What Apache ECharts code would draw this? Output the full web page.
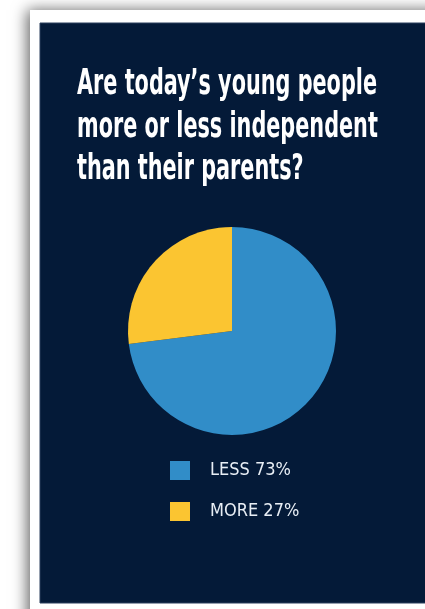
<!DOCTYPE html>
<html>
<head>
<meta charset="utf-8">
<script src="https://cdn.jsdelivr.net/npm/echarts@6/dist/echarts.min.js"></script>
<style>
  html, body { margin: 0; padding: 0; background: #ffffff; }
  #chart { width: 425px; height: 609px; }
</style>
</head>
<body>
<div id="chart"></div>
<script>
// data
const categories = ["LESS", "MORE"];
const values = [73, 27];
const colors = ["#318dc8", "#fbc531"];
const titleLines = [
  "Are today\u2019s young people",
  "more or less independent",
  "than their parents?"
];

const chart = echarts.init(document.getElementById("chart"));

const pieData = categories.map((name, i) => ({
  name: name,
  value: values[i],
  itemStyle: { color: colors[i] }
}));

// title lines, squeezed to look like the condensed headline face
const titleGraphics = titleLines.map((line, i) => ({
  type: "text",
  x: 77,
  y: 85 + i * 42.5,
  scaleX: 0.66,
  z: 10,
  style: {
    text: line,
    fill: "#ffffff",
    font: "bold 35px 'DejaVu Sans Condensed', 'DejaVu Sans', sans-serif",
    verticalAlign: "middle"
  }
}));

const option = {
  backgroundColor: "#ffffff",
  animation: false,
  graphic: [
    // white card with shadow
    {
      type: "rect",
      shape: { x: 30, y: 10, width: 420, height: 620 },
      style: { fill: "#ffffff", shadowBlur: 14, shadowColor: "rgba(0,0,0,0.6)", shadowOffsetX: -3 },
      z: 0
    },
    // navy panel
    {
      type: "rect",
      shape: { x: 40, y: 23, width: 400, height: 580 },
      style: { fill: "#041a38", stroke: "#2a3f5c", lineWidth: 1 },
      z: 1
    },
    ...titleGraphics
  ],
  legend: {
    orient: "vertical",
    left: 165,
    top: 456,
    itemWidth: 20,
    itemHeight: 19,
    itemGap: 22,
    icon: "rect",
    selectedMode: false,
    z: 10,
    formatter: function (name) {
      const i = categories.indexOf(name);
      return name + " " + values[i] + "%";
    },
    textStyle: {
      color: "#e8eef5",
      fontSize: 18,
      fontFamily: "'DejaVu Sans Condensed', sans-serif",
      padding: [0, 0, 0, 15]
    }
  },
  series: [
    {
      type: "pie",
      center: [232, 331],
      radius: 104,
      startAngle: 90,
      clockwise: true,
      z: 5,
      label: { show: false },
      labelLine: { show: false },
      emphasis: { disabled: true },
      data: pieData
    }
  ]
};

chart.setOption(option);
</script>
</body>
</html>
